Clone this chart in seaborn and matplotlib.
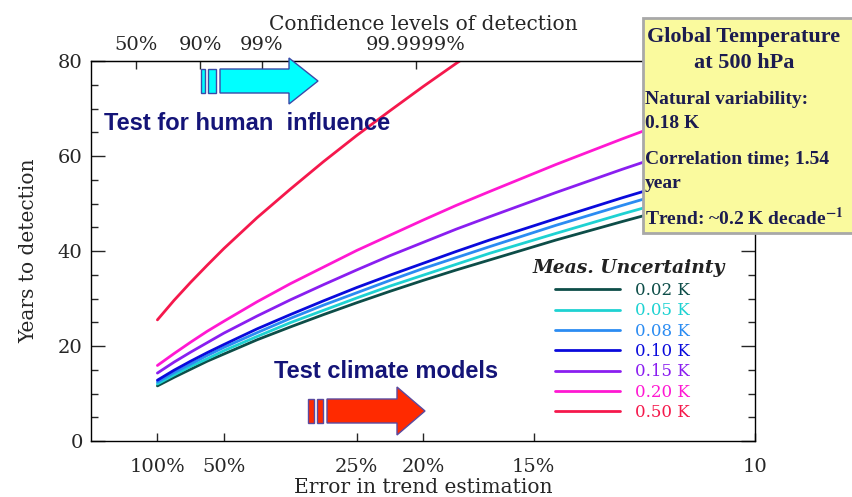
import numpy as np
import pandas as pd
import matplotlib.pyplot as plt
import seaborn as sns
from matplotlib.patches import Polygon, Rectangle
from matplotlib.lines import Line2D

# signal-to-error ratio (x axis is linear in 1/error)
ratio = [1, 1.25, 1.5, 1.75, 2, 2.5, 3, 3.5, 4, 4.5, 5, 5.5, 6, 7, 8, 9, 10]
years_002 = [11.6, 13.4, 15.1, 16.8, 18.3, 21.3, 24.0, 26.6, 29.1, 31.5, 33.8, 36.0, 38.1, 42.3, 46.2, 50.0, 53.6]
years_005 = [12.0, 13.9, 15.7, 17.3, 19.0, 22.0, 24.9, 27.5, 30.1, 32.6, 34.9, 37.2, 39.5, 43.7, 47.8, 51.7, 55.5]
years_008 = [12.4, 14.4, 16.2, 18.0, 19.7, 22.8, 25.8, 28.6, 31.2, 33.8, 36.3, 38.6, 40.9, 45.4, 49.6, 53.7, 57.6]
years_010 = [12.8, 14.9, 16.8, 18.6, 20.3, 23.6, 26.6, 29.5, 32.3, 34.9, 37.4, 39.9, 42.3, 46.8, 51.2, 55.4, 59.4]
years_015 = [14.3, 16.6, 18.7, 20.7, 22.7, 26.3, 29.7, 32.9, 36.0, 39.0, 41.8, 44.6, 47.2, 52.3, 57.2, 61.9, 66.4]
years_020 = [15.9, 18.4, 20.8, 23.1, 25.2, 29.3, 33.1, 36.6, 40.1, 43.3, 46.5, 49.6, 52.5, 58.2, 63.6, 68.8, 73.8]
years_050 = [25.5, 29.6, 33.4, 37.0, 40.5, 47.0, 53.0, 58.8, 64.3, 69.5, 74.6, 79.5, 84.2]

labels = ['0.02 K', '0.05 K', '0.08 K', '0.10 K', '0.15 K', '0.20 K', '0.50 K']
colors = ['#0d4d48', '#1ed2d2', '#2b8cf2', '#0a0adc', '#8a1ef0', '#ff18d2', '#f5184c']

bottom_ticks = [1, 2, 4, 5, 6.667, 10]
bottom_labels = ['100%', '50%', '25%', '20%', '15%', '10']
top_ticks = [0.674, 1.645, 2.576, 4.892]
top_labels = ['50%', '90%', '99%', '99.9999%']

series = [years_002, years_005, years_008, years_010, years_015, years_020, years_050]
df = pd.concat([pd.DataFrame({'ratio': ratio[:len(s)], 'years': s, 'unc': lab})
                for s, lab in zip(series, labels)], ignore_index=True)

sns.set_style('ticks')
plt.rcParams['font.family'] = ['DejaVu Serif']
plt.rcParams['mathtext.fontset'] = 'stix'

W, H = 852, 497
fig = plt.figure(figsize=(W / 100, H / 100), dpi=100)
ax = fig.add_axes([91 / W, 1 - 441 / H, (755 - 91) / W, (441 - 61) / H])


def px(x, y):
    return (x / W, 1 - y / H)


sns.lineplot(data=df, x='ratio', y='years', hue='unc', palette=dict(zip(labels, colors)),
             linewidth=2, estimator=None, sort=False, ax=ax, legend=False)

ax.set_xlim(0, 10)
ax.set_ylim(0, 80)
ax.set_xticks(bottom_ticks)
ax.set_xticklabels(bottom_labels)
ax.set_yticks([0, 20, 40, 60, 80])
ax.set_yticks(np.arange(5, 80, 5), minor=True)
ax.tick_params(axis='y', which='major', direction='in', length=10, width=1, left=True, right=True,
               labelsize=14, pad=6)
ax.tick_params(axis='y', which='minor', direction='in', length=5, width=1, left=True, right=True)
ax.tick_params(axis='x', which='major', direction='in', length=6, width=1, labelsize=14, pad=12)
ax.set_xlabel('Error in trend estimation', fontsize=14.5, labelpad=2)
ax.set_ylabel('Years to detection', fontsize=14.5, labelpad=14)
for sp in ax.spines.values():
    sp.set_linewidth(1)
    sp.set_color('black')

top = ax.secondary_xaxis('top')
top.set_xticks(top_ticks)
top.set_xticklabels(top_labels)
top.tick_params(direction='in', length=6, width=1, labelsize=14, pad=5)
top.set_xlabel('Confidence levels of detection', fontsize=14.5, labelpad=4)

# legend
handles = [Line2D([], [], color=c, lw=2) for c in colors]
leg = ax.legend(handles, labels, loc='upper left', bbox_to_anchor=px(555, 282),
                bbox_transform=fig.transFigure, frameon=False, fontsize=12, handlelength=3.9,
                handletextpad=0.9, labelspacing=0.2, borderpad=0, borderaxespad=0,
                labelcolor='linecolor')
fig.text(*px(533, 268), 'Meas. Uncertainty', fontsize=13.5, fontweight='bold', fontstyle='italic',
         color='#222222', va='center', ha='left')

# annotations
navy = '#141478'
fig.text(*px(104, 124), 'Test for human  influence', family='Liberation Sans', fontweight='bold',
         fontsize=17, color=navy, va='center', ha='left')
fig.text(*px(274, 371), 'Test climate models', family='Liberation Sans', fontweight='bold',
         fontsize=17, color=navy, va='center', ha='left')


def arrow(x0, x1, bars, body, head, tip, yc, fc, ec):
    b0, b1 = yc - body / 2, yc + body / 2
    h0, h1 = yc - head / 2, yc + head / 2
    pts = [px(x0, b0), px(x1, b0), px(x1, h0), px(tip, yc), px(x1, h1), px(x1, b1), px(x0, b1)]
    fig.add_artist(Polygon(pts, closed=True, fc=fc, ec=ec, lw=1, transform=fig.transFigure, zorder=4))
    for a, b in bars:
        fig.add_artist(Rectangle(px(a, b1), (b - a) / W, body / H, fc=fc, ec=ec, lw=1,
                                 transform=fig.transFigure, zorder=4))


arrow(220, 289, [(201, 205), (208, 216)], 24, 46, 318, 81, '#00ffff', '#3a4aa8')
arrow(327, 397, [(308, 314), (317, 323)], 24, 48, 425, 411, '#ff2a00', '#5a4aa0')

# info box
fig.add_artist(Rectangle(px(643, 233), (W - 643 + 30) / W, (233 - 18) / H, fc='#fafa9e',
                         ec='#a8a8a8', lw=2, transform=fig.transFigure, zorder=5))
box_color = '#1c1c50'
kw = dict(family='Liberation Serif', fontweight='bold', color=box_color, va='center', zorder=6)
fig.text(*px(744, 37), 'Global Temperature', fontsize=16, ha='center', **kw)
fig.text(*px(744, 63), 'at 500 hPa', fontsize=16, ha='center', **kw)
fig.text(*px(645, 100), 'Natural variability:', fontsize=14, ha='left', **kw)
fig.text(*px(645, 124), '0.18 K', fontsize=14, ha='left', **kw)
fig.text(*px(645, 159), 'Correlation time; 1.54', fontsize=14, ha='left', **kw)
fig.text(*px(645, 183), 'year', fontsize=14, ha='left', **kw)
fig.text(*px(645, 218), r'Trend: ~0.2 K decade$^{\mathbf{-1}}$', fontsize=14, ha='left', **kw)

fig.savefig('out.png', dpi=100)
